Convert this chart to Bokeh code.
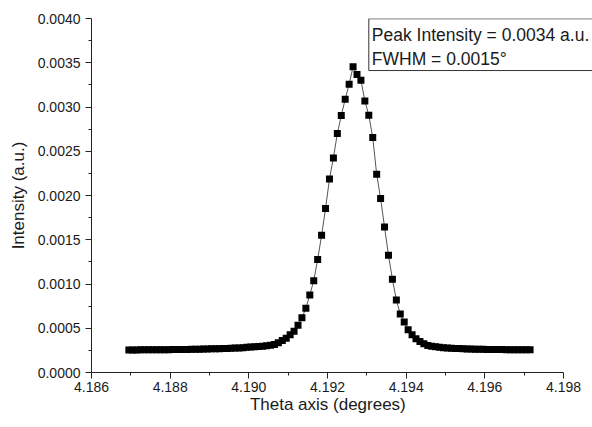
from bokeh.plotting import figure
from bokeh.models import Range1d, FixedTicker, PrintfTickFormatter, Label
from bokeh.embed import file_html
from bokeh.resources import INLINE

# Theta (degrees)
theta = [
    4.18695, 4.18705, 4.18715, 4.18725, 4.18735, 4.18745, 4.18755, 4.18765, 4.18775, 4.18785,
    4.18795, 4.18805, 4.18815, 4.18825, 4.18835, 4.18845, 4.18855, 4.18865, 4.18875, 4.18885,
    4.18895, 4.18905, 4.18915, 4.18925, 4.18935, 4.18945, 4.18955, 4.18965, 4.18975, 4.18985,
    4.18995, 4.19005, 4.19015, 4.19025, 4.19035, 4.19045, 4.19055, 4.19065, 4.19075, 4.19085,
    4.19095, 4.19105, 4.19115, 4.19125, 4.19135, 4.19145, 4.19155, 4.19165, 4.19175, 4.19185,
    4.19195, 4.19205, 4.19215, 4.19225, 4.19235, 4.19245, 4.19255, 4.19265, 4.19275, 4.19285,
    4.19295, 4.19305, 4.19315, 4.19325, 4.19335, 4.19345, 4.19355, 4.19365, 4.19375, 4.19385,
    4.19395, 4.19405, 4.19415, 4.19425, 4.19435, 4.19445, 4.19455, 4.19465, 4.19475, 4.19485,
    4.19495, 4.19505, 4.19515, 4.19525, 4.19535, 4.19545, 4.19555, 4.19565, 4.19575, 4.19585,
    4.19595, 4.19605, 4.19615, 4.19625, 4.19635, 4.19645, 4.19655, 4.19665, 4.19675, 4.19685,
    4.19695, 4.19705, 4.19715,
]

# Intensity (a.u.)
intensity = [
    0.000255, 0.000255, 0.000255, 0.000256, 0.000256, 0.000256, 0.000257, 0.000257, 0.000257, 0.000258,
    0.000258, 0.000259, 0.000259, 0.000260, 0.000260, 0.000261, 0.000262, 0.000263, 0.000264, 0.000265,
    0.000266, 0.000267, 0.000268, 0.000269, 0.000271, 0.000272, 0.000274, 0.000276, 0.000278, 0.000281,
    0.000284, 0.000287, 0.000290, 0.000294, 0.000298, 0.000303, 0.000309, 0.000317, 0.000336, 0.000362,
    0.000388, 0.000426, 0.000467, 0.000535, 0.000619, 0.000725, 0.000877, 0.001037, 0.001278, 0.001550,
    0.001852, 0.002187, 0.002424, 0.002700, 0.002904, 0.003088, 0.003258, 0.003454, 0.003368, 0.003303,
    0.003069, 0.002907, 0.002655, 0.002240, 0.001966, 0.001644, 0.001324, 0.001055, 0.000818, 0.000662,
    0.000570, 0.000483, 0.000426, 0.000381, 0.000351, 0.000325, 0.000305, 0.000296, 0.000290, 0.000285,
    0.000281, 0.000277, 0.000274, 0.000272, 0.000270, 0.000268, 0.000266, 0.000265, 0.000264, 0.000263,
    0.000262, 0.000261, 0.000260, 0.000260, 0.000259, 0.000259, 0.000258, 0.000258, 0.000258, 0.000257,
    0.000257, 0.000257, 0.000256,
]

x_major_ticks = [4.186, 4.188, 4.190, 4.192, 4.194, 4.196, 4.198]
x_minor_ticks = [4.187, 4.189, 4.191, 4.193, 4.195, 4.197]
y_major_ticks = [0.0000, 0.0005, 0.0010, 0.0015, 0.0020, 0.0025, 0.0030, 0.0035, 0.0040]
y_minor_ticks = [0.00025, 0.00075, 0.00125, 0.00175, 0.00225, 0.00275, 0.00325, 0.00375]

info_lines = ["Peak Intensity = 0.0034 a.u.", "FWHM = 0.0015\u00b0"]

FONT = "Liberation Sans"
TXT = "#1a1a1a"
LINE = "#222222"

# frame extends to the right canvas edge so the (cut-off) info box can reach it;
# the x axis line itself is bounded to the tick range
p = figure(
    width=592, height=427,
    output_backend="svg", toolbar_location=None,
    x_range=Range1d(4.186, 4.198737), y_range=Range1d(0.0, 0.004),
    min_border_left=91, min_border_right=0, min_border_top=18, min_border_bottom=55,
)
p.outline_line_color = None
p.grid.visible = False
p.background_fill_color = "white"
p.border_fill_color = "white"

p.line(theta, intensity, line_color="#555555", line_width=1)
p.scatter(theta, intensity, marker="square", size=7, fill_color="black", line_color=None)

p.xaxis.ticker = FixedTicker(ticks=x_major_ticks, minor_ticks=x_minor_ticks)
p.yaxis.ticker = FixedTicker(ticks=y_major_ticks, minor_ticks=y_minor_ticks)
p.xaxis.formatter = PrintfTickFormatter(format="%.3f")
p.yaxis.formatter = PrintfTickFormatter(format="%.4f")
p.xaxis.bounds = (x_major_ticks[0], x_major_ticks[-1])

for ax in (p.xaxis[0], p.yaxis[0]):
    ax.axis_line_color = LINE
    ax.axis_line_width = 1
    ax.major_tick_line_color = LINE
    ax.minor_tick_line_color = LINE
    ax.major_tick_in = 0
    ax.major_tick_out = 6
    ax.minor_tick_in = 0
    ax.minor_tick_out = 3
    ax.major_label_text_font = FONT
    ax.major_label_text_font_size = "14px"
    ax.major_label_text_color = TXT
    ax.axis_label_text_font = FONT
    ax.axis_label_text_font_size = "17px"
    ax.axis_label_text_font_style = "normal"
    ax.axis_label_text_color = TXT

# trailing spaces re-centre the title under the bounded axis (frame runs past 4.198)
p.xaxis.axis_label = "Theta axis (degrees)" + " " * 6
p.yaxis.axis_label = "Intensity (a.u.)"
p.xaxis.major_label_standoff = 3
p.yaxis.major_label_standoff = 5
p.xaxis.axis_label_standoff = 0
p.yaxis.axis_label_standoff = 7

# info box: left, top and bottom sides; the right side runs off the canvas
box_l, box_r, box_t, box_b = 4.19305, 4.2, 0.003997, 0.003412
p.segment(x0=[box_l, box_l, box_l], y0=[box_b, box_t, box_b],
          x1=[box_l, box_r, box_r], y1=[box_t, box_t, box_b],
          line_color="#333333", line_width=1)

p.add_layout(Label(x=4.193127, y=0.003808, text=info_lines[0], text_font=FONT,
                   text_font_size="17.5px", text_color=TXT, text_baseline="middle"))
p.add_layout(Label(x=4.193127, y=0.003545, text=info_lines[1], text_font=FONT,
                   text_font_size="17.5px", text_color=TXT, text_baseline="middle"))

open("out.html", "w").write(file_html(p, INLINE))
